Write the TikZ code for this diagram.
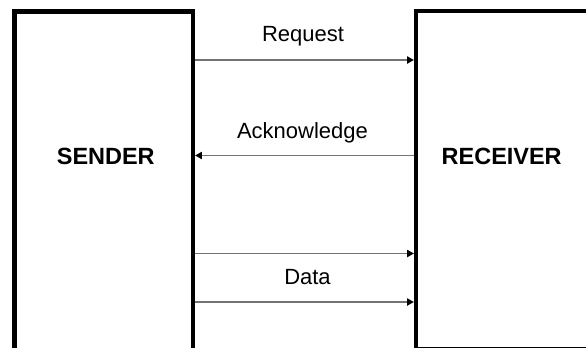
\documentclass[tikz,border=0pt]{standalone}
\usepackage{fontspec}
\setmainfont{Liberation Sans}
\usetikzlibrary{arrows.meta}
\tikzset{
  unit/.style={x=0.75pt,y=-0.75pt},
  party/.style={draw=black,line width=3.3pt,rectangle,inner sep=0pt,anchor=north west},
  partyname/.style={font=\fontsize{17.6pt}{20pt}\selectfont\bfseries,anchor=base,inner sep=0pt},
  msglabel/.style={font=\fontsize{16.5pt}{19pt}\selectfont,anchor=base,inner sep=0pt},
  msg/.style={draw=black!55,line width=0.8pt,-{Triangle[length=5pt,width=5.5pt,fill=black,color=black]}}
}
\begin{document}
\begin{tikzpicture}[unit]
  \useasboundingbox (0,0) rectangle (586,347);
  \clip (0,0) rectangle (586,347);
  % the two communicating parties
  \node[party,minimum width=178.5*0.75pt,minimum height=348.5*0.75pt] (sender) at (12.3,9.3) {};
  \node[party,minimum width=186*0.75pt,minimum height=338*0.75pt] (receiver) at (413.8,8.8) {};
  \node[partyname] (sendername) at (105.8,164) {SENDER};
  \node[partyname] (receivername) at (501.7,164) {RECEIVER};
  % message levels
  \coordinate (yreq) at (0,60);
  \coordinate (yack) at (0,155.5);
  \coordinate (ydataA) at (0,253.5);
  \coordinate (ydataB) at (0,302);
  % messages
  \draw[msg] (sender.east |- yreq) -- (receiver.west |- yreq);
  \draw[msg] (receiver.west |- yack) -- (sender.east |- yack);
  \draw[msg] (sender.east |- ydataA) -- (receiver.west |- ydataA);
  \draw[msg] (sender.east |- ydataB) -- (receiver.west |- ydataB);
  % message labels
  \node[msglabel] (reqlabel) at (303,41.7) {Request};
  \node[msglabel] (acklabel) at (302.5,138.3) {Acknowledge};
  \node[msglabel] (datalabel) at (307.5,284.3) {Data};
\end{tikzpicture}
\end{document}
